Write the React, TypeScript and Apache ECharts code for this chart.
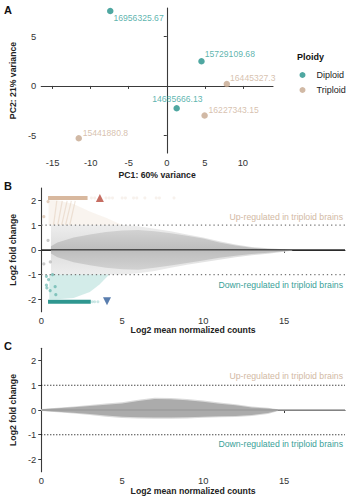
import React, { useEffect, useRef } from "react";
import * as echarts from "echarts";

// ---------- Panel A: PCA ----------
const diploidPC1 = [-7.43, 4.56, 1.3];
const diploidPC2 = [7.6, 2.5, -2.26];
const diploidNames = ["16956325.67", "15729109.68", "14685666.13"];
const triploidPC1 = [7.89, 4.97, -11.57];
const triploidPC2 = [0.2, -3.0, -5.3];
const triploidNames = ["16445327.3", "16227343.15", "15441880.8"];

const pcaXTicks = [-15, -10, -5, 0, 5, 10];
const pcaYTicks = [-5, 0, 5];
const maXTicks = [0, 5, 10, 15];
const maYTicks = [-2, -1, 0, 1, 2];

// ---------- Panel B: MA plot (unshrunken) ----------
const bCloudX = [0.6, 1, 2, 3, 4, 5, 6, 7, 8, 9, 10, 11, 12, 13, 14, 15, 15.5];
const bOuterUpper = [1.0, 1.0, 1.0, 1.0, 1.0, 1.0, 0.95, 0.85, 0.75, 0.62, 0.5, 0.35, 0.22, 0.12, 0.06, 0.02, 0.0];
const bOuterLower = [-1.0, -1.0, -1.0, -1.0, -1.0, -1.0, -0.95, -0.85, -0.72, -0.6, -0.5, -0.4, -0.3, -0.22, -0.16, -0.08, -0.04];
const bInnerUpper = [0.15, 0.3, 0.5, 0.62, 0.72, 0.78, 0.8, 0.75, 0.67, 0.57, 0.46, 0.3, 0.18, 0.08, 0.03, 0.0, -0.02];
const bInnerLower = [-0.15, -0.3, -0.5, -0.62, -0.72, -0.78, -0.8, -0.72, -0.63, -0.53, -0.43, -0.32, -0.24, -0.17, -0.12, -0.06, -0.03];

const bUpBandX = [0.45, 1, 2, 3, 4, 5];
const bUpBandTop = [2.0, 2.0, 1.85, 1.55, 1.3, 1.0];
const bDownBandX = [0.5, 1, 2, 3, 3.6, 4.2];
const bDownBandBottom = [-2.0, -2.0, -1.95, -1.7, -1.4, -1.0];

const capUp = 2.1;
const capDown = -2.1;
const bUpCapX = [0.42, 2.86];
const bDownCapX = [0.42, 3.06];
const bUpSparseX = [3.1, 3.3, 4.0, 4.2, 4.4, 5.0, 5.2, 5.7, 5.9, 6.4, 7.1, 7.3, 8.2];
const bDownSparseX = [3.15, 3.3, 3.5];

const bUpStreakX0 = [0.76, 1.02, 1.26, 1.5, 1.76];
const bUpStreakX1 = [0.96, 1.3, 1.6, 1.86, 2.1];
const streakY0 = 1.0;
const streakY1 = 1.98;

const bUpTriangle = [3.62, 2.1];
const bDownTriangle = [4.06, -2.08];

const bTanDots = [[0.16, 1.34], [0.42, 1.95]];
const bGrayDots = [[0.42, 0.38], [0.16, -0.57], [0.56, -0.49]];
const bTealDots = [[0.32, -1.07], [0.32, -1.43], [0.35, -1.54], [0.86, -1.49], [0.9, -1.81], [0.7, -1.0], [0.45, -1.2], [0.55, -1.65]];

// ---------- Panel C: MA plot (shrunken) ----------
const cCloudX = [0, 1, 2, 3, 4, 5, 6, 7, 8, 9, 10, 11, 12, 13, 14, 14.6];
const cUpper = [0.03, 0.07, 0.11, 0.16, 0.21, 0.26, 0.36, 0.45, 0.44, 0.4, 0.33, 0.25, 0.19, 0.1, 0.06, 0.02];
const cLower = [-0.03, -0.07, -0.11, -0.16, -0.22, -0.27, -0.29, -0.3, -0.3, -0.29, -0.27, -0.25, -0.24, -0.2, -0.12, -0.03];
const cOuterUpper = [0.04, 0.09, 0.14, 0.2, 0.26, 0.31, 0.42, 0.5, 0.49, 0.45, 0.38, 0.3, 0.23, 0.14, 0.09, 0.03];
const cOuterLower = [-0.04, -0.09, -0.14, -0.2, -0.27, -0.32, -0.34, -0.35, -0.35, -0.34, -0.31, -0.29, -0.28, -0.24, -0.16, -0.05];

const maXMax = 18.76;

const TEAL = "#23918a";
const TEAL_TXT = "#33a199";
const TAN = "#c6a88e";
const TAN_TXT = "#cdb19a";
const AXIS = "#3a3a3a";
const FONT = "Liberation Sans, Arial, sans-serif";

const labelPlace: Record<string, { position: string; offset: number[]; distance: number }> = {
  "16956325.67": { position: "right", offset: [0, 6.7], distance: 0 },
  "15729109.68": { position: "right", offset: [0, -7], distance: 0 },
  "14685666.13": { position: "top", offset: [0.7, 0], distance: 1 },
  "16445327.3": { position: "right", offset: [0, -6.3], distance: 0 },
  "16227343.15": { position: "right", offset: [0.7, -5.7], distance: 0 },
  "15441880.8": { position: "right", offset: [0.7, -5.6], distance: 0 },
};

function vgrad(edge: string, center: string) {
  return new echarts.graphic.LinearGradient(0, 0, 0, 1, [
    { offset: 0, color: edge },
    { offset: 0.5, color: center },
    { offset: 1, color: edge },
  ]);
}

function band(idx: number, xs: number[], ups: number[], lows: number[], fill: any, z: number) {
  return {
    type: "custom",
    xAxisIndex: idx,
    yAxisIndex: idx,
    silent: true,
    z,
    data: [[xs[0], ups[0]]],
    renderItem: (_p: any, api: any) => {
      const pts: number[][] = [];
      xs.forEach((x, i) => pts.push(api.coord([x, ups[i]])));
      for (let i = xs.length - 1; i >= 0; i--) pts.push(api.coord([xs[i], lows[i]]));
      return { type: "polygon", shape: { points: pts }, style: { fill } };
    },
  };
}

function seg(idx: number, x0: number, y0: number, x1: number, y1: number, color: string, width: number, type: any, z: number) {
  return {
    type: "line",
    xAxisIndex: idx,
    yAxisIndex: idx,
    silent: true,
    symbol: "none",
    z,
    data: [[x0, y0], [x1, y1]],
    lineStyle: { color, width, type },
  };
}

function scatterPts(idx: number, pts: number[][], color: string, size: number, z: number, symbol = "circle") {
  return {
    type: "scatter",
    xAxisIndex: idx,
    yAxisIndex: idx,
    silent: true,
    symbol,
    symbolSize: size,
    z,
    data: pts,
    itemStyle: { color },
  };
}

function pcaSeries(name: string, xs: number[], ys: number[], names: string[], color: string, txt: string) {
  return {
    type: "scatter",
    name,
    xAxisIndex: 0,
    yAxisIndex: 0,
    symbolSize: 6.5,
    itemStyle: { color },
    z: 5,
    data: xs.map((x, i) => ({
      value: [x, ys[i]],
      name: names[i],
      label: {
        show: true,
        formatter: names[i],
        color: txt,
        fontSize: 8.6,
        fontFamily: FONT,
        position: labelPlace[names[i]].position,
        offset: labelPlace[names[i]].offset,
        distance: labelPlace[names[i]].distance,
      },
    })),
  };
}

function axisCommon() {
  return {
    axisLine: { show: true, lineStyle: { color: AXIS, width: 1.1 } },
    splitLine: { show: false },
    nameTextStyle: { fontFamily: FONT, fontWeight: "bold", fontSize: 8.7, color: "#222" },
  };
}

export default function App() {
  const ref = useRef<HTMLDivElement>(null);
  useEffect(() => {
    document.body.style.margin = "0";
    if (!ref.current) return;
    const chart = echarts.init(ref.current, null, { renderer: "svg" });
    const labelStyle = { fontFamily: FONT, fontSize: 9.4, color: "#333" };
    const tick = (vals: number[]) => ({ show: true, length: 3, lineStyle: { color: AXIS }, customValues: vals });

    const xAxes = [
      {
        ...axisCommon(),
        gridIndex: 0, type: "value", min: -16.5, max: 13.96,
        axisLabel: { ...labelStyle, margin: 5, customValues: pcaXTicks },
        axisTick: tick(pcaXTicks),
        name: "PC1: 60% variance", nameLocation: "middle", nameGap: 17,
      },
      {
        ...axisCommon(),
        gridIndex: 1, type: "value", min: 0, max: maXMax,
        axisLabel: { ...labelStyle, margin: 4, customValues: maXTicks },
        axisTick: tick(maXTicks),
        name: "Log2 mean normalized counts", nameLocation: "middle", nameGap: 14,
      },
      {
        ...axisCommon(),
        gridIndex: 2, type: "value", min: 0, max: maXMax,
        axisLabel: { ...labelStyle, margin: 4, customValues: maXTicks },
        axisTick: tick(maXTicks),
        name: "Log2 mean normalized counts", nameLocation: "middle", nameGap: 15,
      },
    ];
    const yAxes = [
      {
        ...axisCommon(),
        gridIndex: 0, type: "value", min: -6.8, max: 7.9,
        axisLabel: { ...labelStyle, margin: 5, customValues: pcaYTicks },
        axisTick: tick(pcaYTicks),
        name: "PC2: 21% variance", nameLocation: "middle", nameGap: 16,
      },
      {
        ...axisCommon(),
        gridIndex: 1, type: "value", min: -2.5, max: 2.5,
        axisLabel: { ...labelStyle, margin: 5, customValues: maYTicks },
        axisTick: tick(maYTicks),
        name: "Log2 fold change", nameLocation: "middle", nameGap: 16,
      },
      {
        ...axisCommon(),
        gridIndex: 2, type: "value", min: -2.5, max: 2.5,
        axisLabel: { ...labelStyle, margin: 5, customValues: maYTicks },
        axisTick: tick(maYTicks),
        name: "Log2 fold change", nameLocation: "middle", nameGap: 16,
      },
    ];

    const series: any[] = [
      pcaSeries("Diploid", diploidPC1, diploidPC2, diploidNames, TEAL, TEAL_TXT),
      pcaSeries("Triploid", triploidPC1, triploidPC2, triploidNames, TAN, TAN_TXT),

      // Panel B
      band(1, bCloudX, bOuterUpper, bOuterLower, vgrad("#ededed", "#dcdcdc"), 1),
      band(1, bCloudX, bInnerUpper, bInnerLower, vgrad("#d2d2d2", "#bdbdbd"), 2),
      band(1, bUpBandX, bUpBandTop, bUpBandX.map(() => 1), "rgba(220,188,160,0.17)", 1),
      band(1, bDownBandX, bDownBandX.map(() => -1), bDownBandBottom, "rgba(70,175,165,0.24)", 1),
      ...bUpStreakX0.map((x0, i) => seg(1, x0, streakY0, bUpStreakX1[i], streakY1, "rgba(210,175,145,0.3)", 1.2, "solid", 3)),
      seg(1, bUpCapX[0], capUp, bUpCapX[1], capUp, "#d8b89e", 4, "solid", 4),
      seg(1, bDownCapX[0], capDown, bDownCapX[1], capDown, "#2f9790", 4, "solid", 4),
      scatterPts(1, bUpSparseX.map((x) => [x, capUp]), "rgba(220,195,175,0.3)", 3, 4),
      scatterPts(1, bDownSparseX.map((x) => [x, capDown]), "rgba(70,170,162,0.35)", 3, 4),
      scatterPts(1, bTanDots, "rgba(205,170,140,0.7)", 3.2, 4),
      scatterPts(1, bGrayDots, "rgba(170,170,170,0.8)", 3.2, 4),
      scatterPts(1, bTealDots, "rgba(40,150,140,0.6)", 3.2, 4),
      scatterPts(1, [bUpTriangle], "#b84a3c", 8, 6, "triangle"),
      {
        ...scatterPts(1, [bDownTriangle], "#2f5d9a", 8, 6, "triangle"),
        symbolRotate: 180,
      },
      seg(1, 0, 0, maXMax, 0, "#111", 1, "solid", 5),
      seg(1, 0, 1, maXMax, 1, "#777", 1.3, [1.3, 2.9], 5),
      seg(1, 0, -1, maXMax, -1, "#777", 1.3, [1.3, 2.9], 5),

      // Panel C
      band(2, cCloudX, cOuterUpper, cOuterLower, "#dadada", 1),
      band(2, cCloudX, cUpper, cLower, "#ababab", 2),
      seg(2, 0, 0, maXMax, 0, "#9c9c9c", 1.4, "solid", 3),
      seg(2, 0, 1, maXMax, 1, "#111", 1.1, [1.1, 1.9], 5),
      seg(2, 0, -1, maXMax, -1, "#111", 1.1, [1.1, 1.9], 5),
    ];

    const annot = (text: string, top: number, color: string) => ({
      type: "text",
      right: 12,
      top,
      style: { text, fill: color, fontSize: 8.7, fontFamily: FONT },
    });
    const letter = (text: string, top: number) => ({
      type: "text",
      left: 4,
      top,
      style: { text, fill: "#111", fontSize: 11, fontWeight: "bold", fontFamily: FONT },
    });

    chart.setOption({
      animation: false,
      backgroundColor: "#ffffff",
      grid: [
        { left: 32, top: 8, width: 241, height: 145 },
        { left: 32, top: 188, width: 313, height: 123.7 },
        { left: 32, top: 348.3, width: 313, height: 123.4 },
      ],
      xAxis: xAxes,
      yAxis: yAxes,
      legend: {
        data: ["Diploid", "Triploid"],
        orient: "vertical",
        left: 299.5,
        top: 70.5,
        padding: 0,
        itemWidth: 6,
        itemHeight: 6,
        itemGap: 6,
        icon: "circle",
        textStyle: { fontFamily: FONT, fontSize: 9, color: "#222", lineHeight: 6, padding: [0, 0, 0, 6] },
      },
      graphic: [
        letter("A", 4),
        letter("B", 180),
        letter("C", 340),
        {
          type: "text", left: 297, top: 52,
          style: { text: "Ploidy", fill: "#111", fontSize: 9, fontWeight: "bold", fontFamily: FONT },
        },
        annot("Up-regulated in triploid brains", 212, "#d2b9a4"),
        annot("Down-regulated in triploid brains", 280.5, "#3a9f98"),
        annot("Up-regulated in triploid brains", 371, "#d2b9a4"),
        annot("Down-regulated in triploid brains", 439.5, "#3a9f98"),
      ],
      series,
    });
    return () => chart.dispose();
  }, []);
  return <div ref={ref} style={{ width: 355, height: 500, position: "absolute", left: 0, top: 0 }} />;
}
